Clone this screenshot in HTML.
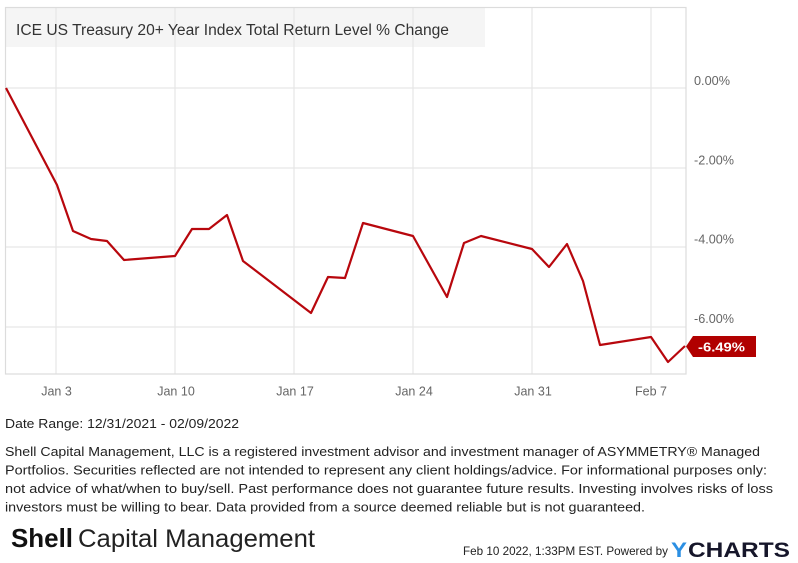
<!DOCTYPE html>
<html><head><meta charset="utf-8"><style>
html,body{margin:0;padding:0;background:#fff;}
svg{display:block;}
text{font-family:"Liberation Sans",sans-serif;}
</style></head><body>
<svg width="798" height="563" viewBox="0 0 798 563" xmlns="http://www.w3.org/2000/svg">
<rect x="0" y="0" width="798" height="563" fill="#fff"/>
<!-- title band -->
<rect x="6" y="8" width="479" height="39" fill="#f5f5f5"/>
<!-- grid -->
<g stroke="#e6e6e6" stroke-width="1.2">
<line x1="56" y1="8" x2="56" y2="374"/>
<line x1="175" y1="8" x2="175" y2="374"/>
<line x1="294" y1="8" x2="294" y2="374"/>
<line x1="413" y1="8" x2="413" y2="374"/>
<line x1="532" y1="8" x2="532" y2="374"/>
<line x1="651" y1="8" x2="651" y2="374"/>
<line x1="5" y1="88" x2="686" y2="88"/>
<line x1="5" y1="168" x2="686" y2="168"/>
<line x1="5" y1="247" x2="686" y2="247"/>
<line x1="5" y1="327" x2="686" y2="327"/>
</g>
<rect x="5.5" y="7.5" width="680.5" height="366.5" fill="none" stroke="#dcdcdc" stroke-width="1.2"/>
<text x="16" y="35" font-size="15.5" fill="#333" textLength="433" lengthAdjust="spacingAndGlyphs">ICE US Treasury 20+ Year Index Total Return Level % Change</text>
<!-- series -->
<polyline fill="none" stroke="#b8070d" stroke-width="2.2" stroke-linejoin="round" points="6,88 57,185 73,231 91,239 107,241 124,260 175,256 192,229 209,229 227,215 243,261 311,313 328,277 345,278 363,223 413,236 447,297 464,243 481,236 532,249 549,267 567,244 583,281 600,345 651,337 668,362 685,346"/>
<!-- tag -->
<polygon points="686,346.5 693,336 756,336 756,357 693,357" fill="#b10000"/>
<text x="698" y="351.5" font-size="12.5" font-weight="bold" fill="#fff" textLength="47" lengthAdjust="spacingAndGlyphs">-6.49%</text>
<!-- y labels -->
<g font-size="12.5" fill="#666">
<text x="694" y="85" textLength="36" lengthAdjust="spacingAndGlyphs">0.00%</text>
<text x="694" y="164.5" textLength="40" lengthAdjust="spacingAndGlyphs">-2.00%</text>
<text x="694" y="243.5" textLength="40" lengthAdjust="spacingAndGlyphs">-4.00%</text>
<text x="694" y="323" textLength="40" lengthAdjust="spacingAndGlyphs">-6.00%</text>
</g>
<!-- x labels -->
<g font-size="12.5" fill="#666" text-anchor="middle">
<text x="56.5" y="395.5">Jan 3</text>
<text x="176" y="395.5">Jan 10</text>
<text x="295" y="395.5">Jan 17</text>
<text x="414" y="395.5">Jan 24</text>
<text x="533" y="395.5">Jan 31</text>
<text x="651" y="395.5">Feb 7</text>
</g>
<!-- footer text -->
<g font-size="13" fill="#222">
<text x="5" y="428" textLength="234" lengthAdjust="spacingAndGlyphs">Date Range: 12/31/2021 - 02/09/2022</text>
<text x="5" y="456" textLength="755" lengthAdjust="spacingAndGlyphs">Shell Capital Management, LLC is a registered investment advisor and investment manager of ASYMMETRY® Managed</text>
<text x="5" y="474.5" textLength="762" lengthAdjust="spacingAndGlyphs">Portfolios. Securities reflected are not intended to represent any client holdings/advice. For informational purposes only:</text>
<text x="5" y="493" textLength="768" lengthAdjust="spacingAndGlyphs">not advice of what/when to buy/sell. Past performance does not guarantee future results. Investing involves risks of loss</text>
<text x="5" y="511.5" textLength="640" lengthAdjust="spacingAndGlyphs">investors must be willing to bear. Data provided from a source deemed reliable but is not guaranteed.</text>
</g>
<!-- logo -->
<text x="11" y="547" font-size="26" font-weight="bold" fill="#111" textLength="62" lengthAdjust="spacingAndGlyphs">Shell</text>
<text x="78" y="547" font-size="25" fill="#222" textLength="237" lengthAdjust="spacingAndGlyphs">Capital Management</text>
<text x="463" y="555" font-size="12" fill="#222" textLength="205" lengthAdjust="spacingAndGlyphs">Feb 10 2022, 1:33PM EST.  Powered by</text>
<text x="671" y="557" font-size="21" font-weight="bold" fill="#2b8fe3" textLength="16" lengthAdjust="spacingAndGlyphs">Y</text>
<text x="688" y="557" font-size="21" font-weight="bold" fill="#16162a" textLength="102" lengthAdjust="spacingAndGlyphs">CHARTS</text>
</svg>
</body></html>
